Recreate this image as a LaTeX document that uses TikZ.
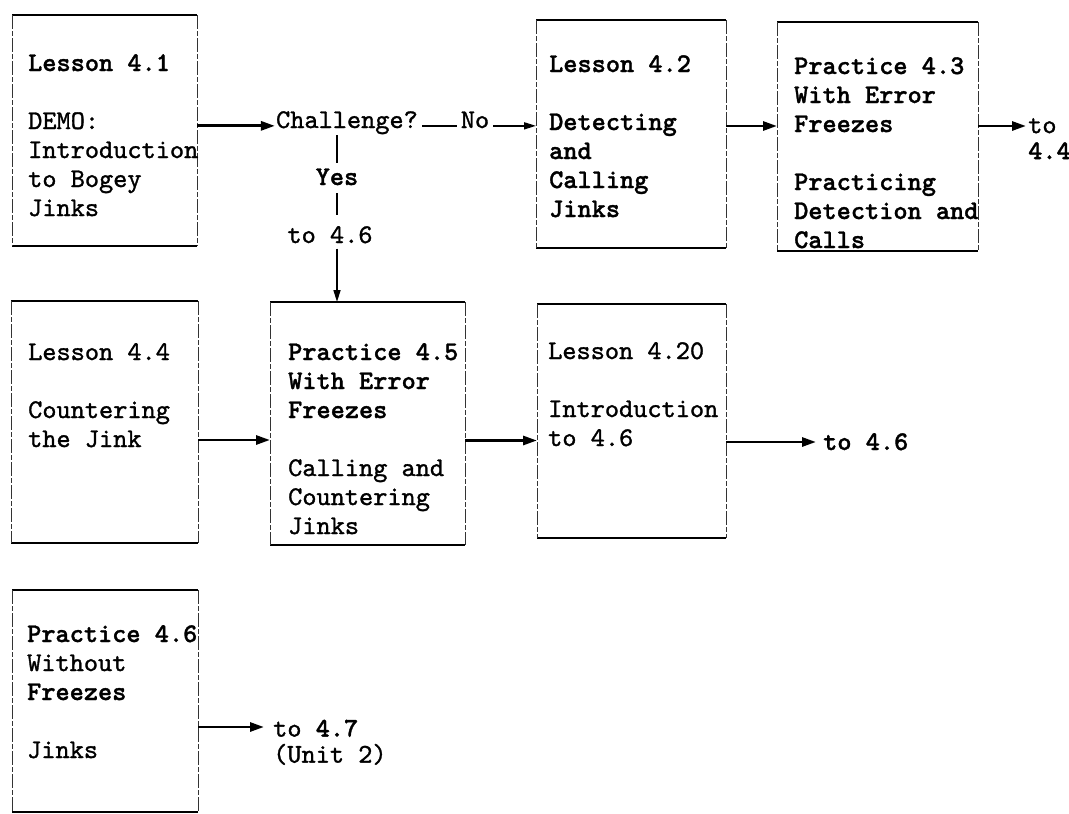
\documentclass[tikz,border=0pt]{standalone}
\usepackage{fontspec}
\setmonofont{lmmono10-regular.otf}[BoldFont=lmmonolt10-bold.otf, FakeBold=1.2]
\usetikzlibrary{arrows.meta}
\tikzset{
  fnt/.style={font=\ttfamily\fontsize{27}{29}\selectfont},
  txt/.style={fnt, align=left, inner sep=0pt, anchor=north west},
  lbl/.style={fnt, inner sep=1pt, anchor=base},
  box/.style={draw=none, inner sep=0pt, outer sep=0pt},
  hedge/.style={line width=2pt, black},
  vedge/.style={line width=0.7pt, black!80, dash pattern=on 14pt off 2pt on 5pt off 2pt},
  bigarrow/.style={line width=2.8pt, -{Triangle[length=14pt,width=9pt]}},
  smallarrow/.style={line width=1.6pt, -{Triangle[length=12pt,width=7pt]}},
  conn/.style={line width=1.8pt},
}
\newcommand\myframebox[1]{%
  \draw[hedge] (#1.north west) -- (#1.north east);
  \draw[hedge] (#1.south west) -- (#1.south east);
  \draw[vedge] (#1.north west) -- (#1.south west);
  \draw[vedge] (#1.north east) -- (#1.south east);
}
\begin{document}
\begin{tikzpicture}[x=1pt,y=-1pt]
\useasboundingbox (0,0) rectangle (1069,814);
\fill[white] (0,0) rectangle (1069,814);

% boxes
\node[box, minimum width=185pt, minimum height=231pt] (b41) at (104.5,130.5) {};
\node[box, minimum width=190pt, minimum height=228pt] (b42) at (631,134) {};
\node[box, minimum width=201pt, minimum height=229pt] (b43) at (877.5,136.5) {};
\node[box, minimum width=187pt, minimum height=242pt] (b44) at (104.5,422) {};
\node[box, minimum width=195pt, minimum height=243pt] (b45) at (367.5,423.5) {};
\node[box, minimum width=189pt, minimum height=234pt] (b420) at (631.5,421) {};
\node[box, minimum width=186pt, minimum height=222pt] (b46) at (105,701) {};
\myframebox{b41}\myframebox{b42}\myframebox{b43}\myframebox{b44}\myframebox{b45}\myframebox{b420}\myframebox{b46}

% box texts
\node[txt] (t41) at (28,54) {\textbf{Lesson 4.1}\\[29pt]DEMO:\\Introduction\\to Bogey\\Jinks};
\node[txt] (t42) at (549,55) {\bfseries Lesson 4.2\\[29pt]\bfseries Detecting\\\bfseries and\\\bfseries Calling\\\bfseries Jinks};
\node[txt] (t43) at (794,57) {\bfseries Practice 4.3\\\bfseries With Error\\\bfseries Freezes\\[29pt]\bfseries Practicing\\\bfseries Detection and\\\bfseries Calls};
\node[txt] (t44) at (28,343) {Lesson 4.4\\[29pt]Countering\\the Jink};
\node[txt] (t45) at (288,343) {\bfseries Practice 4.5\\\bfseries With Error\\\bfseries Freezes\\[29pt]Calling and\\Countering\\Jinks};
\node[txt] (t420) at (548,342) {Lesson 4.20\\[29pt]Introduction\\to 4.6};
\node[txt] (t46) at (27,625) {\bfseries Practice 4.6\\Without\\\bfseries Freezes\\[29pt]Jinks};

% labels
\node[lbl] (chal) at (347,128) {Challenge?};
\node[lbl] (no) at (475,128) {No};
\node[lbl] (yes) at (337,185) {\textbf{Yes}};
\node[lbl] (to46a) at (330,243) {to 4.6};
\node[txt] (to44) at (1028,118) {to\\[-3pt]\textbf{4.4}};
\node[lbl, anchor=base west] (to46b) at (822,450) {\textbf{to 4.6}};
\node[txt] (to47) at (273,719.5) {to \textbf{4.7}\\[-3pt](Unit 2)};

% connectors
\draw[bigarrow] (b41.east |- chal.mid west) -- (chal.mid west);
\draw[conn, shorten <=3pt, shorten >=3pt] (chal.mid east) -- (no.mid west);
\draw[smallarrow, shorten <=3pt] (no.mid east) -- (b42.west |- no.mid east);
\draw[conn] (yes.north |- chal.south) -- ([yshift=4pt]yes.north);
\draw[conn, shorten <=7pt, shorten >=10pt] (yes.south) -- (yes.south |- to46a.north);
\draw[smallarrow, shorten <=4pt] (to46a.south -| yes.south) -- (b45.north -| yes.south);
\draw[bigarrow] ([yshift=8pt]b42.east) -- ([yshift=8pt]b42.east -| b43.west);
\draw[bigarrow, shorten >=2pt] ([yshift=10.5pt]b43.east) -- ([yshift=10.5pt]b43.east -| to44.west);
\draw[bigarrow] ([yshift=-18pt]b44.east) -- ([yshift=-18pt]b44.east -| b45.west);
\draw[bigarrow] ([yshift=-17pt]b45.east) -- ([yshift=-17pt]b45.east -| b420.west);
\draw[bigarrow, shorten >=6pt] ([yshift=-21pt]b420.east) -- ([yshift=-21pt]b420.east -| to46b.west);
\draw[bigarrow, shorten >=9pt] ([yshift=-26pt]b46.east) -- ([yshift=-26pt]b46.east -| to47.west);
\end{tikzpicture}
\end{document}
